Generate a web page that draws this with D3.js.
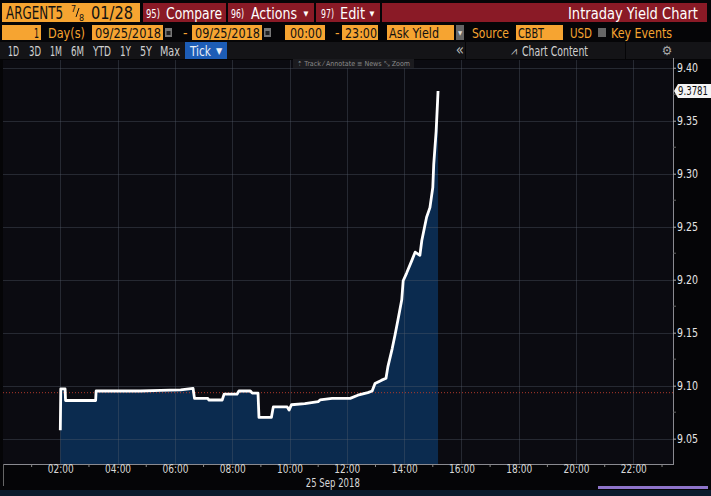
<!DOCTYPE html>
<html>
<head>
<meta charset="utf-8">
<style>
  body { margin: 0; background: #050507; }
  svg { display: block; }
  text { font-family: "DejaVu Sans Condensed", "Liberation Sans", sans-serif; }
</style>
</head>
<body>
<div id="chart"></div>

<script src="https://d3js.org/d3.v7.min.js"></script>
<script>
// intraday ask yield, 25 Sep 2018 (times)
var times = ["02:00","02:01","02:10","02:11","03:14","03:15","04:48","05:30","06:12","06:38",
  "06:41","07:09","07:11","07:39","07:43","08:10","08:14","08:38","08:42","08:54",
  "08:56","09:22","09:26","09:55","09:59","10:04","10:32","11:00","11:04","11:29",
  "12:07","12:23","12:44","12:53","12:59","13:12","13:22","13:26","13:35","13:41",
  "13:47","13:55","13:58","14:05","14:16","14:23","14:33","14:37","14:47","14:54",
  "15:00","15:02","15:07","15:10","15:11"];
var yields = [9.058,9.097,9.097,9.086,9.086,9.095,9.095,9.0955,9.096,9.0975,
  9.088,9.088,9.0865,9.0865,9.092,9.092,9.095,9.095,9.093,9.093,
  9.070,9.070,9.080,9.080,9.077,9.082,9.083,9.085,9.0865,9.088,
  9.088,9.091,9.0935,9.095,9.102,9.105,9.107,9.118,9.135,9.148,
  9.162,9.181,9.199,9.206,9.218,9.226,9.223,9.237,9.259,9.268,
  9.287,9.309,9.340,9.368,9.3781];
var lastValue = "9.3781";
var prevClose = 9.0934;
var yTicks = [9.05, 9.10, 9.15, 9.20, 9.25, 9.30, 9.35, 9.40];
var dateLabel = "25 Sep 2018";
var rangeButtons = ["1D","3D","1M","6M","YTD","1Y","5Y","Max"];

var W = 711, H = 496;
var plot = {left: 3, right: 673, top: 60, bottom: 464};

var svg = d3.select("#chart").append("svg")
  .attr("width", W).attr("height", H);

svg.append("rect").attr("width", W).attr("height", H).attr("fill", "#050507");

// text helper, len squeezes the text to the width seen in the picture
function txt(x, y, s, size, fill, len, anchor) {
  var t = svg.append("text").attr("x", x).attr("y", y)
    .attr("font-size", size).attr("fill", fill).text(s);
  if (anchor) t.attr("text-anchor", anchor);
  if (len) t.attr("textLength", len).attr("lengthAdjust", "spacingAndGlyphs");
  return t;
}

// ---------- header ----------
var orange = "#f6a431", red = "#8a1a26";

// row 1
svg.append("rect").attr("x", 2).attr("y", 3).attr("width", 138).attr("height", 19).attr("fill", orange);
txt(6, 19, "ARGENT5", 17, "#111", 57);
txt(71, 12, "7", 9, "#111");
svg.append("line").attr("x1", 76).attr("x2", 79).attr("y1", 17).attr("y2", 8).attr("stroke", "#111");
txt(79, 21, "8", 9, "#111");
txt(91, 19, "01/28", 17, "#111", 42);

var menu = [
  {x: 143, w: 83, num: "95)", nx: 146, nl: 14, label: "Compare", lx: 166, ll: 56, ax: null},
  {x: 228, w: 86, num: "96)", nx: 231, nl: 13, label: "Actions", lx: 251, ll: 46, ax: 306},
  {x: 316, w: 64, num: "97)", nx: 321, nl: 13, label: "Edit", lx: 340, ll: 25, ax: 372}
];
menu.forEach(function(m) {
  svg.append("rect").attr("x", m.x).attr("y", 3).attr("width", m.w).attr("height", 19).attr("fill", red);
  txt(m.nx, 18, m.num, 12, "#fff", m.nl);
  txt(m.lx, 18.5, m.label, 16, "#fff", m.ll);
  if (m.ax) txt(m.ax, 16, "▼", 7, "#fff", null, "middle");
});
svg.append("rect").attr("x", 382).attr("y", 3).attr("width", 325).attr("height", 19).attr("fill", red);
txt(568, 18.5, "Intraday Yield Chart", 16, "#fff", 130);

// row 2
function oBox(x, w) {
  svg.append("rect").attr("x", x).attr("y", 25).attr("width", w).attr("height", 15).attr("fill", orange);
}
function calIcon(x) {
  svg.append("rect").attr("x", x).attr("y", 28).attr("width", 7).attr("height", 9).attr("fill", "#777");
  svg.append("rect").attr("x", x + 1.5).attr("y", 31).attr("width", 4).attr("height", 4).attr("fill", "#222");
}
oBox(2, 39); txt(34, 37.5, "1", 14, "#111", 5);
txt(48, 37.5, "Day(s)", 14, orange, 37);
oBox(92, 71); txt(95, 37.5, "09/25/2018", 14, "#111", 66);
calIcon(165);
txt(183, 37.5, "-", 14, orange);
oBox(192, 70); txt(195, 37.5, "09/25/2018", 14, "#111", 65);
calIcon(264);
oBox(285, 40); txt(290, 37.5, "00:00", 14, "#111", 32);
txt(335, 37.5, "-", 14, orange);
oBox(342, 36); txt(345, 37.5, "23:00", 14, "#111", 32);
oBox(387, 67); txt(389, 37.5, "Ask Yield", 14, "#111", 50);
svg.append("rect").attr("x", 456).attr("y", 25).attr("width", 8).attr("height", 15).attr("fill", "#666");
txt(460, 35, "▼", 6, "#ddd", null, "middle");
txt(472, 37.5, "Source", 14, orange, 37);
oBox(516, 47); txt(518, 37.5, "CBBT", 14, "#111", 26);
txt(570, 37.5, "USD", 14, orange, 22);
svg.append("rect").attr("x", 598).attr("y", 28).attr("width", 8).attr("height", 9).attr("fill", "#666");
txt(611, 37.5, "Key Events", 14, orange, 61);

// row 3
svg.append("rect").attr("x", 0).attr("y", 42).attr("width", W).attr("height", 17).attr("fill", "#141417");
var btnX = [8, 29, 50, 71, 93, 120, 140, 160];
var btnW = [11, 12, 12, 13, 18, 11, 12, 20];
rangeButtons.forEach(function(b, i) {
  txt(btnX[i], 55.5, b, 14, "#d0d0d0", btnW[i]);
});
svg.append("rect").attr("x", 185).attr("y", 42).attr("width", 42).attr("height", 17).attr("fill", "#1d5db6");
txt(190, 55.5, "Tick", 14, "#e8eef8", 21);
txt(219, 54, "▼", 9, "#e8eef8", null, "middle");
svg.append("rect").attr("x", 465).attr("y", 42).attr("width", 1).attr("height", 17).attr("fill", "#050507");
svg.append("rect").attr("x", 625).attr("y", 42).attr("width", 1).attr("height", 17).attr("fill", "#050507");
txt(460, 55, "«", 15, "#bbb", null, "middle");
txt(511, 55, "⩘", 11, "#bbb");
txt(522, 55.5, "Chart Content", 14, "#d0d0d0", 66);
txt(667, 55, "⚙", 13, "#aaa", null, "middle");

// ---------- chart ----------
var parseTime = d3.timeParse("%Y-%m-%d %H:%M");
var day = "2018-09-25 ";
var data = times.map(function(t, i) { return {t: parseTime(day + t), v: yields[i]}; });

var x = d3.scaleTime()
  .domain([parseTime(day + "00:00"), parseTime(day + "23:23")])
  .range([plot.left, plot.right]);
var y = d3.scaleLinear()
  .domain([9.0261, 9.4073])
  .range([plot.bottom, plot.top]);

svg.append("rect").attr("x", plot.left).attr("y", plot.top)
  .attr("width", plot.right - plot.left).attr("height", plot.bottom - plot.top)
  .attr("fill", "#0b0b11");

// area under line
svg.append("path").datum(data)
  .attr("fill", "#0b2b4f")
  .attr("d", d3.area()
    .x(function(d) { return x(d.t); })
    .y0(plot.bottom)
    .y1(function(d) { return y(d.v); }));

// grid
var xGrid = x.ticks(d3.timeHour.every(2)).filter(function(d) { return d.getHours() > 0; });
svg.append("g").selectAll("line").data(xGrid).enter().append("line")
  .attr("x1", function(d) { return Math.round(x(d)) + 0.5; })
  .attr("x2", function(d) { return Math.round(x(d)) + 0.5; })
  .attr("y1", plot.top).attr("y2", plot.bottom)
  .attr("stroke", "#5a6070").attr("stroke-opacity", 0.35);
svg.append("g").selectAll("line").data(yTicks).enter().append("line")
  .attr("x1", plot.left).attr("x2", plot.right)
  .attr("y1", function(d) { return Math.round(y(d)) + 0.5; })
  .attr("y2", function(d) { return Math.round(y(d)) + 0.5; })
  .attr("stroke", "#5a6070").attr("stroke-opacity", 0.35);

// previous close reference line
svg.append("line")
  .attr("x1", plot.left).attr("x2", plot.right)
  .attr("y1", y(prevClose)).attr("y2", y(prevClose))
  .attr("stroke", "#b0392c").attr("stroke-width", 1).attr("stroke-dasharray", "1,2");

// yield line
svg.append("path").datum(data)
  .attr("fill", "none")
  .attr("stroke", "#ffffff")
  .attr("stroke-width", 2.8)
  .attr("stroke-linejoin", "round")
  .attr("d", d3.line()
    .x(function(d) { return x(d.t); })
    .y(function(d) { return y(d.v); }));

// right axis
var yAxis = svg.append("g")
  .attr("transform", "translate(" + plot.right + ",0)")
  .call(d3.axisRight(y).tickValues(yTicks).tickSize(3).tickPadding(1).tickFormat(d3.format(".2f")));
yAxis.select(".domain").attr("stroke", "#8a8a90").attr("d", "M0.5," + (plot.top - 2) + "V" + plot.bottom);
yAxis.selectAll(".tick line").attr("stroke", "#aaa");
yAxis.selectAll(".tick text").attr("fill", "#e6e6e6").attr("font-size", 12)
  .attr("textLength", 21).attr("lengthAdjust", "spacingAndGlyphs");
// minor y ticks
svg.append("g").selectAll("line").data(d3.range(9.075, 9.40, 0.05)).enter().append("line")
  .attr("x1", plot.right).attr("x2", plot.right + 3)
  .attr("y1", function(d) { return y(d); }).attr("y2", function(d) { return y(d); })
  .attr("stroke", "#666");

// last value marker
var ly = y(yields[yields.length - 1]);
svg.append("path")
  .attr("d", "M674," + ly + "L678," + (ly - 7) + "H711V" + (ly + 7) + "H678Z")
  .attr("fill", "#f4f4f4");
txt(678, ly + 4.5, lastValue, 12, "#111", 30);

// bottom axis
var xAxis = svg.append("g")
  .attr("transform", "translate(0," + plot.bottom + ")")
  .call(d3.axisBottom(x).tickValues(xGrid).tickSize(0).tickPadding(1)
    .tickFormat(d3.timeFormat("%H:%M")));
xAxis.select(".domain").attr("stroke", "#8a8a90").attr("d", "M" + plot.left + ",0.5H" + (plot.right + 1));
xAxis.selectAll(".tick text").attr("fill", "#d8d8d8").attr("font-size", 11.5)
  .attr("textLength", 26).attr("lengthAdjust", "spacingAndGlyphs");
var oddHours = x.ticks(d3.timeHour.every(1)).filter(function(d) { return d.getHours() % 2 === 1; });
svg.append("g").selectAll("line").data(oddHours).enter().append("line")
  .attr("x1", function(d) { return x(d); }).attr("x2", function(d) { return x(d); })
  .attr("y1", plot.bottom).attr("y2", plot.bottom + 3)
  .attr("stroke", "#888");
svg.append("line").attr("x1", plot.left + 0.5).attr("x2", plot.left + 0.5)
  .attr("y1", plot.bottom).attr("y2", plot.bottom + 22).attr("stroke", "#666");
txt(x(parseTime(day + "12:00")) + 13, 487, dateLabel, 11.5, "#d8d8d8", 54, "end");

// little chart toolbar
svg.append("rect").attr("x", 293).attr("y", 59).attr("width", 121).attr("height", 9).attr("fill", "#1b1b1f");
txt(297, 66, "⇡ Track   ⁄ Annotate   ≡ News   ⤡ Zoom", 7, "#8a8a8a", 113);

// bottom strip
svg.append("rect").attr("x", 0).attr("y", 490).attr("width", W).attr("height", 6).attr("fill", "#0b1a2c");
svg.append("rect").attr("x", 598).attr("y", 486).attr("width", 110).attr("height", 3).attr("fill", "#8e74c9");
</script>
</body>
</html>
